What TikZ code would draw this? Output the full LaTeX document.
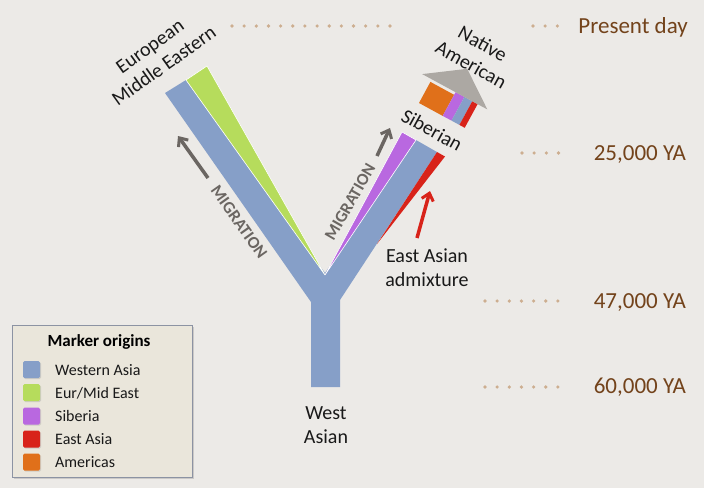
\documentclass[tikz,border=0pt]{standalone}
\usepackage{fontspec}
\setmainfont{Carlito}
\usetikzlibrary{arrows.meta,shadows}
\definecolor{bg}{HTML}{ECEAE7}
\definecolor{wblue}{HTML}{869FC8}
\definecolor{egreen}{HTML}{B6DC5C}
\definecolor{spurple}{HTML}{B968E0}
\definecolor{ered}{HTML}{D8231A}
\definecolor{aorange}{HTML}{E0701A}
\definecolor{agray}{HTML}{ACA8A3}
\definecolor{mgray}{HTML}{6B6662}
\definecolor{timec}{HTML}{73431B}
\definecolor{dotc}{HTML}{CDAE90}
\definecolor{legbg}{HTML}{EAE6DB}
\definecolor{legline}{HTML}{8C93A3}
\begin{document}
\begin{tikzpicture}[x=1pt,y=-1pt,
  lab/.style={font=\fontsize{20}{24}\selectfont, text=black!90, align=center, inner sep=0pt},
  timelab/.style={font=\fontsize{23}{27}\selectfont, text=timec, anchor=base east, inner sep=0pt},
  dotline/.style={dotc, line width=3.6pt, line cap=round, dash pattern=on 0pt off 12.15pt},
  migtext/.style={font=\fontsize{17}{20}\selectfont\bfseries, text=mgray, inner sep=0pt},
  migarrow/.style={mgray, line width=3.5pt, -{Straight Barb[length=7pt,width=12pt,line width=3pt]}},
  redarrow/.style={ered, line width=3.5pt, -{Straight Barb[length=7pt,width=12pt,line width=3pt]}},
  legsq/.style={minimum size=17pt, inner sep=0pt, rounded corners=1.5pt, drop shadow={shadow xshift=1pt,shadow yshift=-1pt,opacity=0.25}},
  legtext/.style={font=\fontsize{16}{19}\selectfont, text=black!90, anchor=base west, inner sep=0pt},
  sep/.style={draw=white, line width=0.6pt}
]
\useasboundingbox (0,0) rectangle (704,488);
\fill[bg] (0,0) rectangle (704,488);

% ---- time scale ----
\draw[dotline] (232,26) -- (390.5,26);
\draw[dotline] (533,26) -- (557.5,26);
\node[timelab] (tpres) at (688,33) {Present day};
\draw[dotline] (522,153) -- (558.5,153);
\node[timelab] (t25) at (686,160) {25,000 YA};
\draw[dotline] (485,301) -- (558.5,301);
\node[timelab] (t47) at (686,308) {47,000 YA};
\draw[dotline] (485,387) -- (558.5,387);
\node[timelab] (t60) at (686,393) {60,000 YA};

% ---- Y tree ----
\fill[wblue] (165,93) -- (186,80) -- (325,273) -- (416,140) -- (437,152)
  -- (340,300) -- (340,387) -- (311,387) -- (311,302) -- cycle;
\fill[egreen, sep] (186,80) -- (207,66) -- (325,275) -- cycle;
\fill[spurple, sep] (402,132) -- (416,140) -- (325,275) -- cycle;
\fill[ered] (437,152) -- (445,156.5) -- (377,244) -- cycle;

% ---- Native American block ----
\fill[aorange] (419,103) -- (442.7,115.9) -- (454.1,94.8) -- (430.4,81.9) -- cycle;
\fill[spurple] (442.7,115.9) -- (451.5,120.6) -- (464.4,96.9) -- (455.6,92.2) -- cycle;
\fill[wblue] (451.5,120.6) -- (459.4,124.9) -- (472.3,101.2) -- (464.4,96.9) -- cycle;
\fill[ered] (459.4,124.9) -- (464.7,127.8) -- (477.6,104.1) -- (472.3,101.2) -- cycle;
\fill[agray] (422.2,74.1) -- (467.2,68.8) -- (487.3,109.4) -- cycle;

% ---- labels ----
\node[lab, rotate=35.5] (euro) at (157,56) {European\\Middle Eastern};
\node[lab, rotate=-29] (natam) at (477,54) {Native\\American};
\node[lab, rotate=-29] (sib) at (432,130) {Siberian};
\node[lab] (eastas) at (427,268) {East Asian\\admixture};
\node[lab] (westas) at (326,425) {West\\Asian};

\node[migtext, rotate=-54.5] (migL) at (239,222) {MIGRATION};
\node[migtext, rotate=60] (migR) at (350,202) {MIGRATION};

\coordinate (mlA) at (208,178);
\coordinate (mlB) at (178,136);
\draw[migarrow] (mlA) -- (mlB);
\coordinate (mrA) at (377,156);
\coordinate (mrB) at (390,128);
\draw[migarrow] (mrA) -- (mrB);
\coordinate (raA) at (417,238);
\coordinate (raB) at (430,191);
\draw[redarrow] (raA) -- (raB);

% ---- legend ----
\node[draw=legline, line width=0.8pt, fill=legbg, minimum width=180pt, minimum height=152pt,
  inner sep=0pt, drop shadow={shadow xshift=1.5pt,shadow yshift=-1.5pt,opacity=0.3}] (legend) at (102,401) {};
\node[font=\fontsize{17}{20}\selectfont\bfseries, anchor=base, inner sep=0pt] (legtitle) at (99,346) {Marker origins};
\node[legsq, fill=wblue] (sq1) at (31.5,369.5) {};
\node[legtext] (lt1) at (55,375) {Western Asia};
\node[legsq, fill=egreen] (sq2) at (31.5,392.5) {};
\node[legtext] (lt2) at (55,398) {Eur/Mid East};
\node[legsq, fill=spurple] (sq3) at (31.5,416) {};
\node[legtext] (lt3) at (55,421.5) {Siberia};
\node[legsq, fill=ered] (sq4) at (31.5,439) {};
\node[legtext] (lt4) at (55,444.5) {East Asia};
\node[legsq, fill=aorange] (sq5) at (31.5,462) {};
\node[legtext] (lt5) at (55,467.5) {Americas};
\end{tikzpicture}
\end{document}
